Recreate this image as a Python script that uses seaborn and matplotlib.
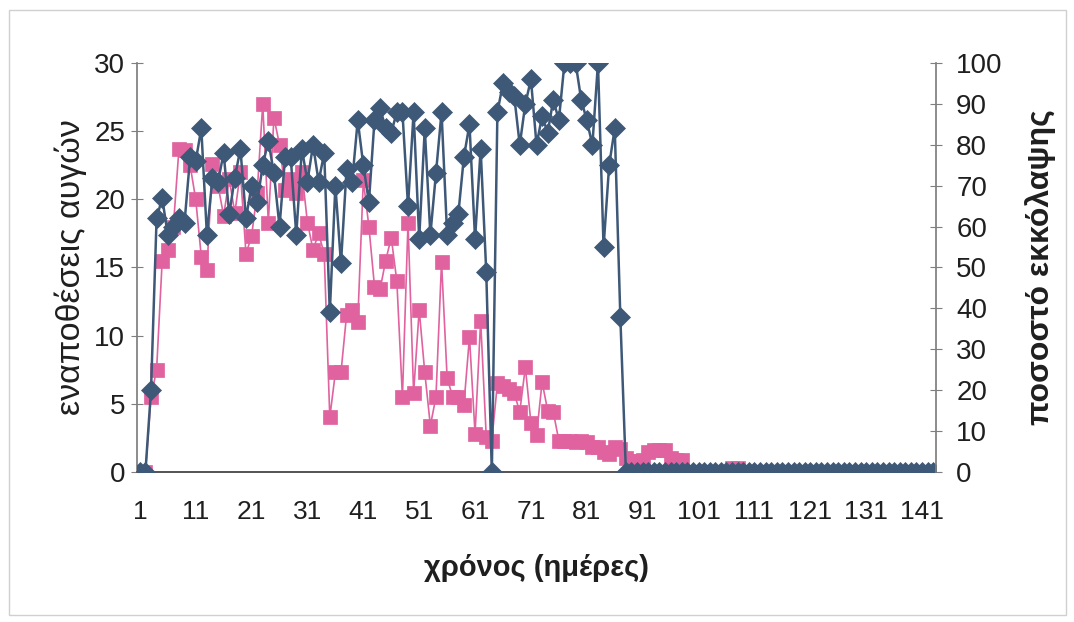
import numpy as np
import pandas as pd
import matplotlib
matplotlib.use("Agg")
import matplotlib.pyplot as plt
from matplotlib import font_manager
from matplotlib.patches import Rectangle
import seaborn as sns

# ─── Data ────────────────────────────────────────────────────────────
days = list(range(1, 144))

# egg depositions (left axis)
eggs = [
    0, 0, 5.5, 7.5, 15.5, 16.3, 18, 23.7, 23.6, 22.5,
    20, 15.8, 14.8, 22.6, 21, 18.8, 21.5, 19, 22, 16,
    17.3, 20.5, 27, 18.3, 26, 24, 20.7, 21.5, 20.5, 22,
    18.3, 16.3, 17.5, 16, 4, 7.3, 7.3, 11.5, 11.9, 11,
    21.4, 18, 13.6, 13.4, 15.5, 17.2, 14, 5.5, 18.3, 5.8,
    11.9, 7.3, 3.4, 5.5, 15.4, 6.9, 5.5, 5.5, 4.9, 9.9,
    2.8, 11.1, 2.6, 2.3, 6.5, 6.3, 6.1, 5.8, 4.4, 7.7,
    3.6, 2.7, 6.6, 4.5, 4.4, 2.3, 2.3, 2.3, 2.2, 2.3,
    2.2, 1.8, 1.8, 1.5, 1.3, 1.8, 1.7, 1.0, 0.8, 0.8,
    0.9, 1.5, 1.6, 1.6, 1.6, 1.0, 0.9, 0.9, 0, 0,
    0, 0, 0, 0, 0, 0, 0.3, 0.3, 0, 0,
    0, 0, 0, 0, 0, 0, 0, 0, 0, 0,
    0, 0, 0, 0, 0, 0, 0, 0, 0, 0,
    0, 0, 0, 0, 0, 0, 0, 0, 0, 0,
    0, 0, 0,
]

# hatching percentage (right axis)
hatch = [
    0, 0, 20, 62, 67, 58, 60, 62, 61, 77,
    76, 84, 58, 72, 71, 78, 63, 72, 79, 62,
    70, 66, 75, 81, 73, 60, 77, 77, 58, 79,
    71, 80, 71, 78, 39, 70, 51, 74, 71, 86,
    75, 66, 86, 89, 84, 83, 88, 88, 65, 88,
    57, 84, 58, 73, 88, 58, 61, 63, 77, 85,
    57, 79, 49, 0, 88, 95, 93, 92, 80, 90,
    96, 80, 87, 83, 91, 86, 100, 100, 100, 91,
    86, 80, 100, 55, 75, 84, 38, 0, 0, 0,
    0, 0, 0, 0, 0, 0, 0, 0, 0, 0,
    0, 0, 0, 0, 0, 0, 0, 0, 0, 0,
    0, 0, 0, 0, 0, 0, 0, 0, 0, 0,
    0, 0, 0, 0, 0, 0, 0, 0, 0, 0,
    0, 0, 0, 0, 0, 0, 0, 0, 0, 0,
    0, 0, 0,
]

x_ticks = [1, 11, 21, 31, 41, 51, 61, 71, 81, 91, 101, 111, 121, 131, 141]
left_ticks = [0, 5, 10, 15, 20, 25, 30]
right_ticks = [0, 10, 20, 30, 40, 50, 60, 70, 80, 90, 100]

PINK = "#e0629f"
BLUE = "#3e5877"
AXIS = "#7f7f7f"
TEXT = "#1f1f1f"


def pick_font(names):
    for n in names:
        try:
            font_manager.findfont(n, fallback_to_default=False)
            return n
        except Exception:
            continue
    return "DejaVu Sans"


def main():
    sns.set_theme(style="white")
    regular = pick_font(["Liberation Sans", "Arial"])
    narrow = pick_font(["Liberation Sans Narrow", "Liberation Sans"])
    plt.rcParams["font.family"] = [regular, "DejaVu Sans"]

    df = pd.DataFrame({"day": days, "eggs": eggs, "hatch": hatch})

    fig = plt.figure(figsize=(10.74, 6.22), dpi=100)
    fig.subplots_adjust(left=0.1276, right=0.8715, top=0.8987, bottom=0.2412)
    ax = fig.add_subplot(111)
    ax2 = ax.twinx()

    sns.lineplot(data=df, x="day", y="eggs", ax=ax, color=PINK, linewidth=1.2,
                 marker="s", markersize=10, markeredgecolor=PINK, markeredgewidth=0.5)
    sns.lineplot(data=df, x="day", y="hatch", ax=ax2, color=BLUE, linewidth=1.8,
                 marker="D", markersize=10, markeredgecolor=BLUE, markeredgewidth=0.5)

    ax.set_xlim(0.5, 143.5)
    ax.set_ylim(0, 30)
    ax2.set_ylim(0, 100)

    ax.set_xticks(x_ticks)
    ax.set_xticklabels([str(t) for t in x_ticks], fontsize=19, color=TEXT,
                       family=[narrow, "DejaVu Sans"])
    ax.set_xticks(np.arange(0.5, 144, 1.0), minor=True)
    ax.tick_params(axis="x", which="major", length=0, pad=20)
    ax.tick_params(axis="x", which="minor", length=8, width=0.8,
                   direction="inout", color=AXIS)

    ax.set_yticks(left_ticks)
    ax.set_yticklabels([str(t) for t in left_ticks], fontsize=20, color=TEXT)
    ax.tick_params(axis="y", length=9, width=0.8, direction="inout", color=AXIS, pad=4)
    ax2.set_yticks(right_ticks)
    ax2.set_yticklabels([str(t) for t in right_ticks], fontsize=20, color=TEXT)
    ax2.tick_params(axis="y", length=9, width=0.8, direction="inout", color=AXIS, pad=10)

    for a in (ax, ax2):
        a.spines["top"].set_visible(False)
        a.spines["left"].set_color(AXIS)
        a.spines["right"].set_color(AXIS)
        a.spines["bottom"].set_color("#555555")
        a.spines["bottom"].set_zorder(0)
        a.grid(False)
    ax2.spines["left"].set_visible(False)
    ax.spines["right"].set_visible(False)

    ax.set_xlabel("χρόνος (ημέρες)", fontsize=21, fontweight="bold", color=TEXT,
                  family=[narrow, "DejaVu Sans"], labelpad=22)
    ax.set_ylabel("εναποθέσεις αυγών", fontsize=24.5, color=TEXT, labelpad=5)
    ax2.set_ylabel("ποσοστό εκκόλαψης", fontsize=23, fontweight="bold", color=TEXT,
                   rotation=90, labelpad=16)

    fig.patches.append(Rectangle((0.008, 0.012), 0.985, 0.972, transform=fig.transFigure,
                                 fill=False, edgecolor="#d0d0d0", linewidth=1.0))

    fig.savefig("out.png", dpi=100, facecolor="white")
    plt.close(fig)


if __name__ == "__main__":
    main()
